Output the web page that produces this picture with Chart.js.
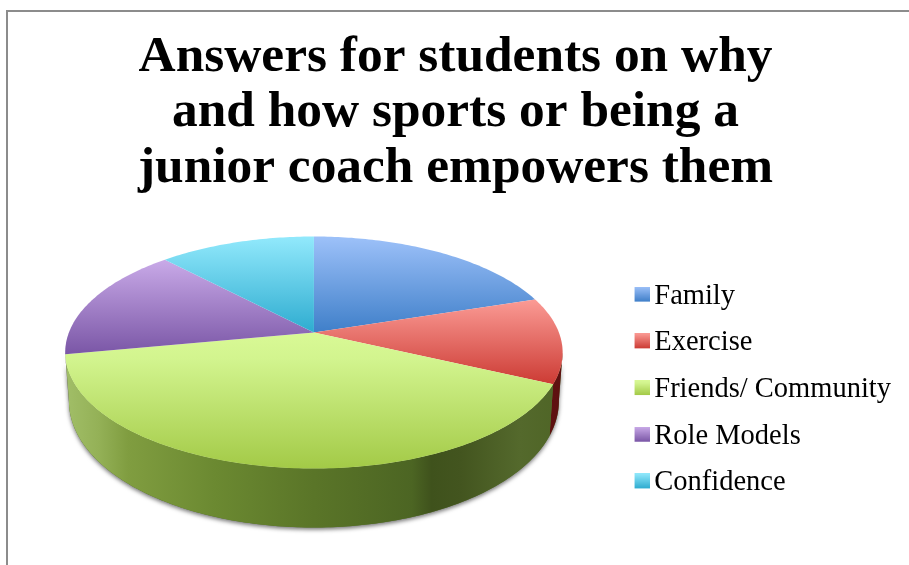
<!DOCTYPE html>
<html>
<head>
<meta charset="utf-8">
<style>
  html, body { margin: 0; padding: 0; background: #fff; overflow: hidden; }
  canvas { display: block; }
</style>
<script src="https://cdn.jsdelivr.net/npm/chart.js@4"></script>
</head>
<body>
<canvas id="pie" width="909" height="565"></canvas>
<script>
const titleLines = ['Answers for students on why', 'and how sports or being a', 'junior coach empowers them'];
const categories = ['Family', 'Exercise', 'Friends/ Community', 'Role Models', 'Confidence'];
const shares = [20, 12, 40, 16, 12];

// Top-face gradients, light edge first; one list per slice.
const faceStops = [
  [[0, '#9dc1f9'], [1, '#3f7fc9']],
  [[0, '#fb9b95'], [1, '#cc3b34']],
  [[0, '#d9f996'], [0.2, '#d2f48e'], [1, '#a3ca47']],
  [[0, '#c9aae8'], [1, '#7a56a6']],
  [[0, '#92e9fc'], [1, '#2eacd0']]
];
// Side-wall gradients run left to right across the drum.
const wallStops = [
  [[0, '#2f5c96'], [1, '#2f5c96']],
  [[0, '#7c1818'], [1, '#5e1010']],
  [[0, '#a0bd66'], [0.06, '#94b157'], [0.12, '#809d40'], [0.3, '#6b8931'], [0.5, '#5a7528'],
   [0.7, '#4c6523'], [0.74, '#3f521c'], [0.8, '#43551f'], [0.92, '#54692c'], [1, '#4f6526']],
  [[0, '#5a3d80'], [1, '#5a3d80']],
  [[0, '#2a8aa6'], [1, '#2a8aa6']]
];

// Perspective of the tilted disc: flattening, foreshortening, drum depth.
const flatten = 0.4594;
const foreshorten = 0.1724;
const apexLift = 57;
const depthBase = 46;
const depthGrowth = 13;
const baseNarrowing = 0.985;
// The wall only shows on the near side of the widest line of the ellipse.
const wallFrom = 0.17;
const wallTo = Math.PI - 0.17;

function topPoint(arc, angle) {
  const u = Math.cos(angle), v = Math.sin(angle);
  const w = 1 - foreshorten * v;
  return {
    x: arc.x + arc.outerRadius * u / w,
    y: arc.y - apexLift + arc.outerRadius * flatten * v / w
  };
}

function basePoint(arc, angle) {
  const p = topPoint(arc, angle);
  return {
    x: arc.x + (p.x - arc.x) * baseNarrowing,
    y: p.y + depthBase + depthGrowth * Math.sin(angle)
  };
}

function sampleAngles(start, end) {
  const steps = Math.max(8, Math.ceil((end - start) * 60));
  const out = [];
  for (let i = 0; i <= steps; i++) out.push(start + (end - start) * i / steps);
  return out;
}

function gradient(ctx, x0, y0, x1, y1, stops) {
  const g = ctx.createLinearGradient(x0, y0, x1, y1);
  stops.forEach(([at, colour]) => g.addColorStop(at, colour));
  return g;
}

function traceWall(ctx, arc, start, end) {
  const angles = sampleAngles(start, end);
  ctx.beginPath();
  angles.forEach((a, n) => {
    const p = topPoint(arc, a);
    n ? ctx.lineTo(p.x, p.y) : ctx.moveTo(p.x, p.y);
  });
  angles.slice().reverse().forEach(a => {
    const p = basePoint(arc, a);
    ctx.lineTo(p.x, p.y);
  });
  ctx.closePath();
}

const drumPie = {
  id: 'drumPie',
  beforeDatasetsDraw(chart) {
    const ctx = chart.ctx;
    const arcs = chart.getDatasetMeta(0).data;
    const first = arcs[0];

    // Soft shadow under the near side of the drum.
    ctx.save();
    ctx.shadowColor = 'rgba(0,0,0,0.55)';
    ctx.shadowBlur = 4;
    ctx.shadowOffsetY = 2;
    ctx.fillStyle = '#55702a';
    traceWall(ctx, first, wallFrom, wallTo);
    ctx.fill();
    ctx.restore();

    // Side walls, then the top faces over them.
    const left = basePoint(first, wallTo).x;
    const right = basePoint(first, wallFrom).x;
    arcs.forEach((arc, i) => {
      // Slice angles may run past a full turn; fold them onto the near-side range.
      [0, Math.PI * 2].forEach(turn => {
        const start = Math.max(arc.startAngle - turn, wallFrom);
        const end = Math.min(arc.endAngle - turn, wallTo);
        if (end <= start) return;
        traceWall(ctx, arc, start, end);
        ctx.fillStyle = gradient(ctx, left, 0, right, 0, wallStops[i]);
        ctx.fill();
      });
    });

    arcs.forEach((arc, i) => {
      const apexY = arc.y - apexLift;
      const rim = sampleAngles(arc.startAngle, arc.endAngle).map(a => topPoint(arc, a));
      const ys = rim.map(p => p.y).concat(apexY);
      ctx.beginPath();
      ctx.moveTo(arc.x, apexY);
      rim.forEach(p => ctx.lineTo(p.x, p.y));
      ctx.closePath();
      ctx.fillStyle = gradient(ctx, 0, Math.min(...ys), 0, Math.max(...ys), faceStops[i]);
      ctx.fill();
    });
    return false;
  }
};

// Frame along the top and left of the chart.
const frame = {
  id: 'frame',
  beforeDraw(chart) {
    const ctx = chart.ctx;
    ctx.save();
    ctx.strokeStyle = '#8c8c8c';
    ctx.lineWidth = 2;
    ctx.beginPath();
    ctx.moveTo(7, chart.height);
    ctx.lineTo(7, 11);
    ctx.lineTo(chart.width, 11);
    ctx.stroke();
    ctx.restore();
  }
};

// Legend swatch with transparent margins so it sits close to its label.
function swatch(stops) {
  const marginLeft = 8, marginBottom = 4, side = 15;
  const c = document.createElement('canvas');
  c.width = side + marginLeft;
  c.height = side + marginBottom;
  const x = c.getContext('2d');
  x.fillStyle = gradient(x, 0, 0, 0, side, stops);
  x.fillRect(marginLeft, 0, side, side);
  return c;
}

const swatches = faceStops.map(swatch);

new Chart(document.getElementById('pie'), {
  type: 'pie',
  data: {
    labels: categories,
    datasets: [{ data: shares, radius: 245, borderWidth: 0, backgroundColor: faceStops.map(s => s[s.length - 1][1]) }]
  },
  plugins: [frame, drumPie],
  options: {
    responsive: false,
    animation: false,
    layout: { padding: { left: 10, right: 8 } },
    plugins: {
      tooltip: { enabled: false },
      title: {
        display: true,
        text: titleLines,
        color: '#000',
        font: { family: '"Liberation Serif"', size: 51.4, weight: 'bold', lineHeight: 1.08 },
        padding: { top: 29.5, bottom: 18 }
      },
      legend: {
        position: 'right',
        fullSize: false,
        onClick: null,
        labels: {
          color: '#111',
          font: { family: '"Liberation Serif"', size: 28.5 },
          padding: 18.2,
          usePointStyle: true,
          pointStyleWidth: 4,
          generateLabels: () => categories.map((text, i) => ({
            text, pointStyle: swatches[i], fillStyle: '#fff', strokeStyle: '#fff', lineWidth: 0, index: i, hidden: false
          }))
        }
      }
    }
  }
});
</script>
</body>
</html>
